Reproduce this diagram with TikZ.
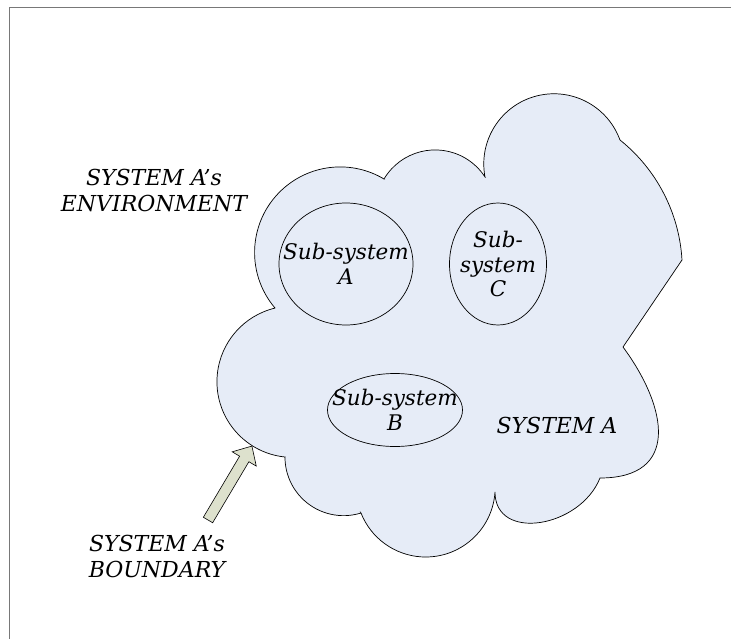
\documentclass[tikz,border=0pt]{standalone}
\usepackage{fontspec}
\setmainfont{DejaVu Serif}
\usetikzlibrary{calc,shapes.geometric}
\definecolor{cloudfill}{RGB}{230,236,247}
\definecolor{arrowfill}{RGB}{221,225,205}
\definecolor{framegray}{RGB}{120,120,120}
\tikzset{
  lbl/.style={font=\itshape\fontsize{22}{26}\selectfont, align=center, inner sep=0pt},
  sublbl/.style={font=\itshape\fontsize{21.5}{24.5}\selectfont, align=center, inner sep=0pt},
  subsys/.style={draw=black, line width=0.7pt, fill=cloudfill},
  cloudline/.style={draw=black, line width=0.7pt, fill=cloudfill, line join=miter},
  blockarrow/.style={draw=black, line width=0.6pt, fill=arrowfill, line join=miter},
}
\begin{document}
\begin{tikzpicture}[x=1pt,y=1pt]
\useasboundingbox (0,0) rectangle (731,-639);
% frame (top and left edges)
\draw[framegray, line width=1pt] (9,-639) -- (9,-7.5) -- (731,-7.5);
% cloud
\path[cloudline]
  (275,-308) arc[start angle=220.4, end angle=59.2, radius=85.6]
  -- (384,-179) arc[start angle=149.25, end angle=33.0, radius=59.5]
  -- (485,-177) arc[start angle=190.7, end angle=20.0, radius=70.2]
  -- (620,-140) arc[start angle=51.3, end angle=3.35, radius=166.2]
  -- (682,-260) -- (623,-347)
  .. controls (668,-408) and (680,-478) .. (600,-478)
  .. controls (580,-528) and (495,-542) .. (495,-492)
  arc[start angle=-3.7, end angle=-158.5, radius=69.5]
  -- (361,-513) arc[start angle=-72.7, end angle=-180, radius=58.6]
  -- (285,-457) arc[start angle=264.2, end angle=103.5, radius=75.7]
  -- cycle;
% sub-systems
\node[subsys, ellipse, minimum width=134, minimum height=122, inner sep=0pt] (ssa) at (346,-264) {};
\node[subsys, ellipse, minimum width=97, minimum height=122, inner sep=0pt] (ssc) at (498,-264) {};
\node[subsys, ellipse, minimum width=135, minimum height=73, inner sep=0pt] (ssb) at (395,-410) {};
\node[sublbl] (ta) at (346,-264) {Sub-system\\A};
\node[sublbl] (tc) at (498,-264) {Sub-\\system\\C};
\node[sublbl] (tb) at (395,-410) {Sub-system\\B};
% labels
\node[lbl] (env) at (154,-190) {SYSTEM A’s\\ENVIRONMENT};
\node[lbl] (sysa) at (557,-425) {SYSTEM A};
\node[lbl] (bnd) at (157,-556) {SYSTEM A’s\\BOUNDARY};
% boundary arrow
\coordinate (atail) at (208,-520);
\coordinate (atip) at (252,-446);
\begin{scope}[shift={(atail)}, rotate=59.3]
\draw[blockarrow] (0,-5.4) -- (71,-5.4) -- (71,-14) -- (86,0) -- (71,14) -- (71,5.4) -- (0,5.4) -- cycle;
\end{scope}
\end{tikzpicture}
\end{document}
